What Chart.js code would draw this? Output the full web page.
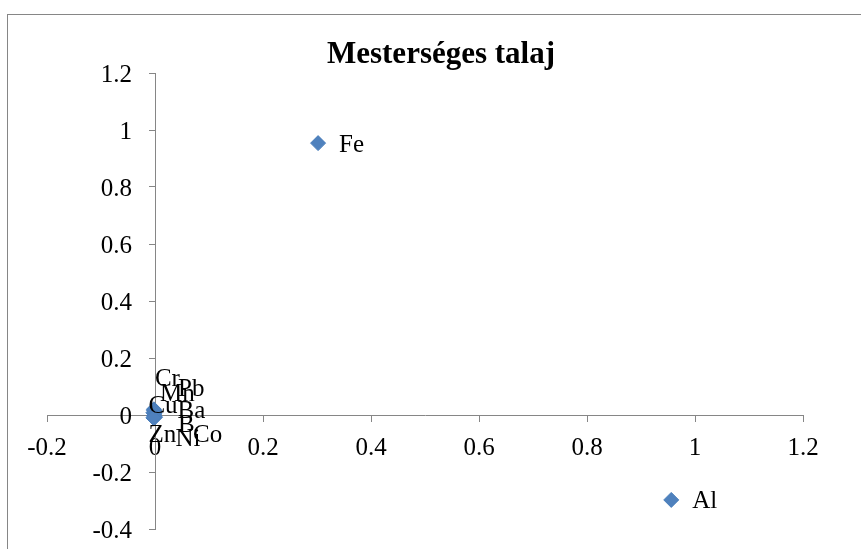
<!DOCTYPE html>
<html>
<head>
<meta charset="utf-8">
<script src="https://cdn.jsdelivr.net/npm/chart.js@4.4.0/dist/chart.umd.min.js"></script>
<style>
  html, body { margin: 0; padding: 0; background: #fff; }
  #wrap { position: relative; width: 861px; height: 549px; overflow: hidden; }
  #frame { position: absolute; left: 7px; top: 14px; width: 900px; height: 600px; border: 1px solid #868686; }
  #chart { position: absolute; left: 0; top: 0; }
</style>
</head>
<body>
<div id="wrap">
  <div id="frame"></div>
  <canvas id="chart" width="861" height="549"></canvas>
</div>
<script>
"use strict";

/** DATA */

const CHART_TITLE = 'Mesterséges talaj';
const ELEMENTS = ['Fe', 'Al', 'Cr', 'Mn', 'Pb', 'Cu', 'Ba', 'B', 'Ni', 'Co', 'Zn'];
const X_VALUES = [0.302, 0.956, -0.002, -0.002, 0.000, -0.003, -0.001, -0.002, -0.001, 0.000, -0.003];
const Y_VALUES = [0.954, -0.298, 0.020, 0.016, 0.012, 0.008, 0.004, -0.002, -0.006, -0.008, -0.010];
const X_TICKS = [-0.2, 0, 0.2, 0.4, 0.6, 0.8, 1, 1.2];
const Y_TICKS = [-0.4, -0.2, 0, 0.2, 0.4, 0.6, 0.8, 1, 1.2];

/** STYLE */

const AXIS_COLOR = '#868686';
const POINT_FILL = '#4F81BD';
const POINT_BORDER = '#4A7EBB';
const SERIF = "'Liberation Serif', 'Times New Roman', serif";
const TICK_FONT = { family: SERIF, size: 25 };
const Y_LABEL_GAP = 23;     // y tick labels sit left of the axis line
const TEXT_SHIFT_Y = 2;     // nudge text down a bit, like the original

// Labels near the origin were dragged apart in the original, [dx, dy] in px
const DEFAULT_NUDGE = [21, 0];
const LABEL_NUDGE = {
    Cr: [1, -32],
    Mn: [6, -18],
    Pb: [23, -24],
    Cu: [-5, -8],
    Ba: [23, -4],
    B: [24, 8],
    Ni: [21, 21],
    Co: [38, 16],
    Zn: [-5, 16],
};

// Draw element names next to the points
const pointLabels = {
    id: 'pointLabels',
    afterDatasetsDraw(chart) {
        const ctx = chart.ctx;
        const meta = chart.getDatasetMeta(0);
        ctx.save();
        ctx.font = `25px ${ SERIF }`;
        ctx.fillStyle = '#000';
        ctx.textAlign = 'left';
        ctx.textBaseline = 'middle';
        meta.data.forEach((pt, i) => {
            const [dx, dy] = LABEL_NUDGE[ELEMENTS[i]] || DEFAULT_NUDGE;
            ctx.fillText(ELEMENTS[i], pt.x + dx, pt.y + dy + TEXT_SHIFT_Y);
        });
        ctx.restore();
    }
};

// Title centred on the chart frame, not the plot area
const frameTitle = {
    id: 'frameTitle',
    afterDraw(chart) {
        const ctx = chart.ctx;
        ctx.save();
        ctx.font = `bold 31px ${ SERIF }`;
        ctx.fillStyle = '#000';
        ctx.textAlign = 'center';
        ctx.textBaseline = 'middle';
        ctx.fillText(CHART_TITLE, 441, 55);
        ctx.restore();
    }
};

// Axis crossing at x = 0 puts the y labels on the line; move them left
const shiftYLabels = {
    id: 'shiftYLabels',
    beforeDraw(chart) {
        const items = chart.scales.y.getLabelItems(chart.chartArea);
        if (items.shifted) return;
        items.forEach(item => {
            item.options.translation[0] -= Y_LABEL_GAP;
            item.options.translation[1] += TEXT_SHIFT_Y;
        });
        items.shifted = true;
    }
};

const axisOptions = (ticks, crossAxis, padding) => ({
    type: 'linear',
    min: ticks[0],
    max: ticks[ticks.length - 1],
    position: { [crossAxis]: 0 },
    afterBuildTicks: scale => { scale.ticks = ticks.map(v => ({ value: v })) },
    grid: {
        drawOnChartArea: false,
        drawTicks: true,
        tickLength: 6,
        tickColor: AXIS_COLOR,
        tickWidth: 1
    },
    border: { display: true, color: AXIS_COLOR, width: 1 },
    ticks: {
        color: '#000',
        font: TICK_FONT,
        padding: padding,
        maxRotation: 0,
        autoSkip: false,
        callback: v => String(v)
    }
});

const xAxis = axisOptions(X_TICKS, 'y', 12);
xAxis.afterFit = scale => { scale.height = 0 };
const yAxis = axisOptions(Y_TICKS, 'x', 0);
yAxis.afterFit = scale => { scale.width = 0 };

const scatterChart = new Chart(document.getElementById('chart').getContext('2d'), {
    type: 'scatter',
    data: {
        datasets: [{
            label: CHART_TITLE,
            data: X_VALUES.map((x, i) => ({ x: x, y: Y_VALUES[i] })),
            pointStyle: 'rectRot',
            pointRadius: 7.5,
            pointHoverRadius: 7.5,
            backgroundColor: POINT_FILL,
            borderColor: POINT_BORDER,
            borderWidth: 1
        }]
    },
    options: {
        responsive: false,
        animation: false,
        devicePixelRatio: 1,
        layout: { padding: { left: 47, right: 58, top: 73, bottom: 20 } },
        plugins: {
            legend: { display: false },
            title: { display: false },
            tooltip: { enabled: false }
        },
        scales: { x: xAxis, y: yAxis }
    },
    plugins: [shiftYLabels, pointLabels, frameTitle]
});
</script>
</body>
</html>
